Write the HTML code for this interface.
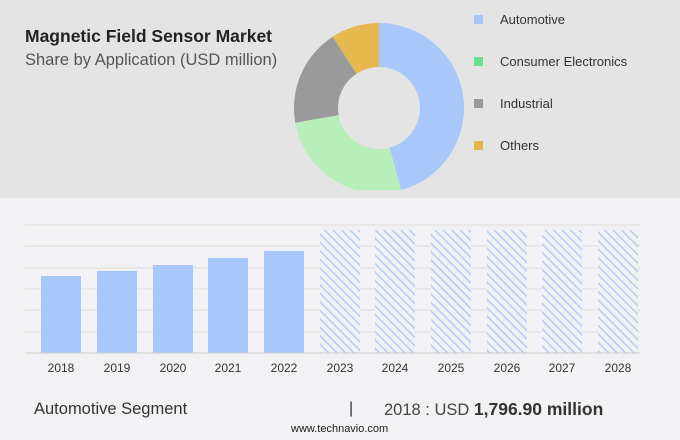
<!DOCTYPE html>
<html><head><meta charset="utf-8"><style>
body{margin:0;width:680px;height:440px;background:#f2f2f4;font-family:"Liberation Sans",sans-serif;overflow:hidden;position:relative}
.top{position:absolute;left:0;top:0;width:680px;height:198px;background:#e4e4e4}
.t{position:absolute;color:#333;white-space:nowrap}
</style></head><body>
<div class="top"></div>
<svg width="680" height="440" style="position:absolute;left:0;top:0">
<defs><pattern id="h" width="6" height="6" patternUnits="userSpaceOnUse" patternTransform="rotate(-45)"><rect width="6" height="6" fill="#f2f2f4"/><rect width="1.6" height="6" fill="#b9cdf5"/></pattern>
<clipPath id="c"><rect x="0" y="0" width="680" height="190"/></clipPath></defs>
<g clip-path="url(#c)">
<path d="M379,23 A85,85 0 0 1 401,190.1 L389.6,147.6 A41,41 0 0 0 379,67 Z" fill="#a8c8fc"/>
<path d="M401,190.1 A85,85 0 0 1 295.3,122.8 L338.6,115.1 A41,41 0 0 0 389.6,147.6 Z" fill="#b8eeb9"/>
<path d="M295.3,122.8 A85,85 0 0 1 332.7,36.7 L356.7,73.6 A41,41 0 0 0 338.6,115.1 Z" fill="#9a9a9a"/>
<path d="M332.7,36.7 A85,85 0 0 1 379,23 L379,67 A41,41 0 0 0 356.7,73.6 Z" fill="#e6b84e"/>
</g>
<rect x="474" y="15" width="9" height="9" fill="#a8c8fc"/>
<rect x="474" y="57" width="9" height="9" fill="#6de08f"/>
<rect x="474" y="99" width="9" height="9" fill="#999"/>
<rect x="474" y="141" width="9" height="9" fill="#e2b84e"/>
<g stroke="#dcdcdc" stroke-width="1">
<line x1="25" x2="640" y1="225" y2="225"/><line x1="25" x2="640" y1="246" y2="246"/><line x1="25" x2="640" y1="268" y2="268"/><line x1="25" x2="640" y1="289" y2="289"/><line x1="25" x2="640" y1="310" y2="310"/><line x1="25" x2="640" y1="332" y2="332"/></g>
<g fill="#a8c8fc"><rect x="41" y="276" width="40" height="77"/><rect x="97" y="271" width="40" height="82"/><rect x="153" y="265" width="40" height="88"/><rect x="208" y="258" width="40" height="95"/><rect x="264" y="251" width="40" height="102"/></g>
<g fill="url(#h)"><rect x="320" y="230" width="40" height="123"/><rect x="375" y="230" width="40" height="123"/><rect x="431" y="230" width="40" height="123"/><rect x="487" y="230" width="40" height="123"/><rect x="542" y="230" width="40" height="123"/><rect x="598" y="230" width="40" height="123"/></g>
<line x1="25" x2="640" y1="353" y2="353" stroke="#ccc"/>
<g font-size="12" fill="#333" text-anchor="middle" font-family="Liberation Sans,sans-serif">
<text x="61" y="372">2018</text><text x="117" y="372">2019</text><text x="173" y="372">2020</text><text x="228" y="372">2021</text><text x="284" y="372">2022</text><text x="340" y="372">2023</text><text x="395" y="372">2024</text><text x="451" y="372">2025</text><text x="507" y="372">2026</text><text x="562" y="372">2027</text><text x="618" y="372">2028</text></g>
</svg>
<div class="t" style="left:25px;top:26px;font-size:17.5px;font-weight:bold;color:#222">Magnetic Field Sensor Market</div>
<div class="t" style="left:25px;top:51px;font-size:16.5px;color:#555">Share by Application (USD million)</div>
<div class="t" style="left:500px;top:12px;font-size:13px">Automotive</div>
<div class="t" style="left:500px;top:54px;font-size:13px">Consumer Electronics</div>
<div class="t" style="left:500px;top:96px;font-size:13px">Industrial</div>
<div class="t" style="left:500px;top:138px;font-size:13px">Others</div>
<div class="t" style="left:34px;top:400px;font-size:16.5px">Automotive Segment</div>
<div class="t" style="left:349px;top:400px;font-size:16px">|</div>
<div class="t" style="left:384px;top:399px;font-size:16.5px;color:#444">2018 : USD <b style="font-size:17.5px;color:#333">1,796.90 million</b></div>
<div class="t" style="left:291px;top:423px;font-size:11px;color:#222">www.technavio.com</div>
</body></html>
